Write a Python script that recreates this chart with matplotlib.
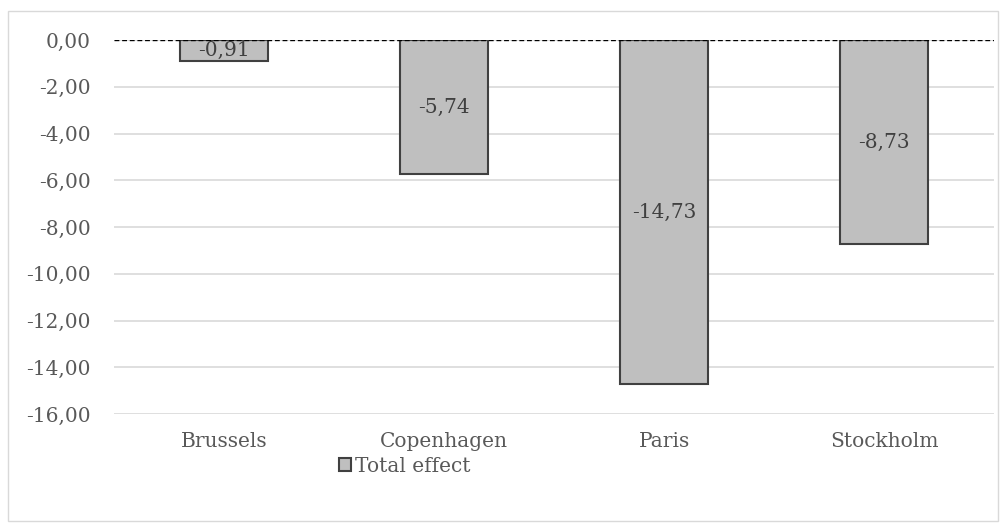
import matplotlib.pyplot as plt
from matplotlib.patches import Rectangle

# Data for the bar chart
cities = ['Brussels', 'Copenhagen', 'Paris', 'Stockholm']
total_effect = [-0.91, -5.74, -14.73, -8.73]
y_ticks = [0, -2, -4, -6, -8, -10, -12, -14, -16]

plt.rcParams['font.family'] = ['DejaVu Serif']
fs = 14.5

fig = plt.figure(figsize=(10.07, 5.26), dpi=100)
ax = fig.add_axes([114 / 1007, 1 - 414 / 526, 880 / 1007, 374 / 526])

# Light grey frame around the whole chart
fig.patches.append(Rectangle((8 / 1007, 1 - 521 / 526), 990 / 1007, 510 / 526,
                             transform=fig.transFigure, fill=False,
                             edgecolor='#d9d9d9', linewidth=1))

x = range(len(cities))
bars = ax.bar(x, total_effect, width=0.4, color='#bfbfbf', edgecolor='#404040',
              linewidth=1.5, label='Total effect', zorder=3)

for i, v in enumerate(total_effect):
    ax.text(i, v / 2, f'{v:.2f}'.replace('.', ','), ha='center', va='center',
            fontsize=fs, color='#404040', zorder=4)

ax.axhline(0, color='black', linestyle=(0, (3.5, 2)), linewidth=1, zorder=5)

ax.set_xlim(-0.5, 3.5)
ax.set_ylim(-16, 0)
ax.set_yticks(y_ticks)
ax.set_yticklabels([f'{t:.2f}'.replace('.', ',') for t in y_ticks])
ax.set_xticks(list(x))
ax.set_xticklabels(cities)
ax.tick_params(axis='both', length=0, labelsize=fs, labelcolor='#595959')
ax.tick_params(axis='y', pad=16.5)
ax.tick_params(axis='x', pad=13)
ax.yaxis.grid(True, color='#d9d9d9', linewidth=1.2, zorder=0)
for s in ax.spines.values():
    s.set_visible(False)

fig.legend(handles=[bars], labels=['Total effect'], loc='center',
           bbox_to_anchor=(405 / 1007, 1 - 466 / 526), frameon=False,
           fontsize=fs, labelcolor='#595959', handlelength=0.6,
           handleheight=0.6, handletextpad=0.2)

fig.savefig('out.png', dpi=100)
